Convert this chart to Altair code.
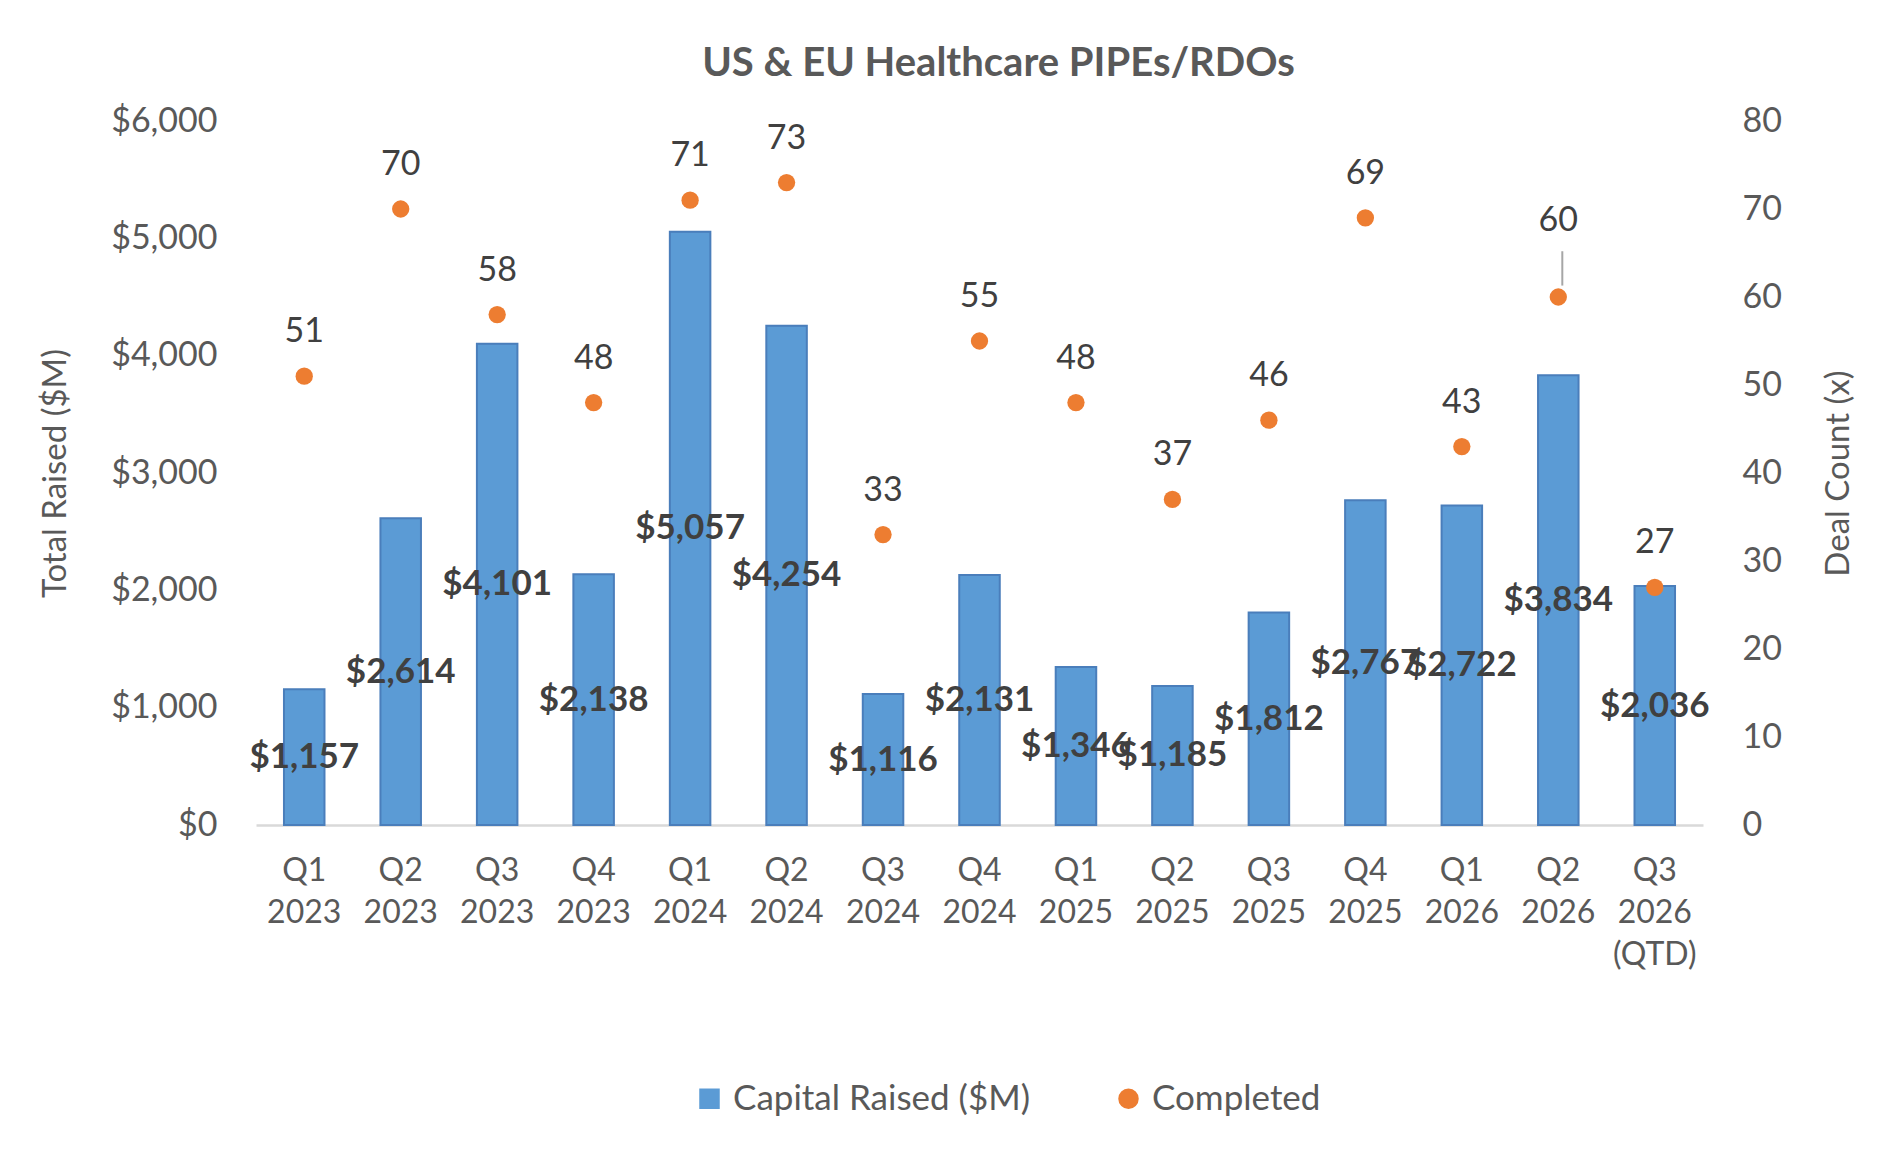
import altair as alt
import pandas as pd

quarters = ["Q1\n2023", "Q2\n2023", "Q3\n2023", "Q4\n2023",
            "Q1\n2024", "Q2\n2024", "Q3\n2024", "Q4\n2024",
            "Q1\n2025", "Q2\n2025", "Q3\n2025", "Q4\n2025",
            "Q1\n2026", "Q2\n2026", "Q3\n2026\n(QTD)"]
capital = [1157, 2614, 4101, 2138, 5057, 4254, 1116, 2131,
           1346, 1185, 1812, 2767, 2722, 3834, 2036]
deals = [51, 70, 58, 48, 71, 73, 33, 55, 48, 37, 46, 69, 43, 60, 27]
series_names = ["Capital Raised ($M)", "Completed"]
leader_quarters = ["Q2\n2026"]

df = pd.DataFrame({"quarter": quarters, "capital": capital, "deals": deals})

FONT = "Lato"
GRAY = "#595959"
DARK = "#404040"
BLUE = "#5B9BD5"
ORANGE = "#ED7D31"

x = alt.X("quarter:N", sort=quarters,
          scale=alt.Scale(paddingInner=0.58, paddingOuter=0.29),
          axis=alt.Axis(title=None, labelAngle=0, ticks=False,
                        labelExpr="split(datum.label, '\\n')",
                        labelLineHeight=42, labelPadding=30,
                        labelFontSize=32, labelColor=GRAY, labelFont=FONT,
                        domainColor="#D9D9D9", domainWidth=2.5))

legend = alt.Legend(title=None, orient="none", direction="horizontal",
                    legendX=436, legendY=960, symbolSize=420,
                    labelFontSize=35, labelFont=FONT, labelColor=GRAY,
                    columnPadding=80, labelOffset=6, labelLimit=0,
                    symbolStrokeWidth=0)
color = alt.Color("series:N",
                  scale=alt.Scale(domain=series_names, range=[BLUE, ORANGE]),
                  legend=legend)
shape = alt.Shape("series:N",
                  scale=alt.Scale(domain=series_names, range=["square", "circle"]),
                  legend=legend)

left_scale = alt.Scale(domain=[0, 6000])
right_scale = alt.Scale(domain=[0, 80])

left_axis = alt.Axis(title="Total Raised ($M)", values=[0, 1000, 2000, 3000, 4000, 5000, 6000],
                     format="$,.0f", grid=False, domain=False, ticks=False,
                     labelPadding=39, labelFontSize=34, labelColor=GRAY, labelFont=FONT,
                     titleFontSize=33, titleColor=GRAY, titleFont=FONT,
                     titleFontWeight="normal", titlePadding=38)
right_axis = alt.Axis(orient="right", title="Deal Count (x)",
                      values=[0, 10, 20, 30, 40, 50, 60, 70, 80],
                      grid=False, domain=False, ticks=False,
                      labelPadding=39, labelFontSize=34, labelColor=GRAY, labelFont=FONT,
                      titleFontSize=33, titleColor=GRAY, titleFont=FONT,
                      titleFontWeight="normal", titlePadding=74, titleAngle=270)

base = alt.Chart(df)

bars = base.transform_calculate(series="'Capital Raised ($M)'").mark_bar(
    stroke="#4A7EBB", strokeWidth=2
).encode(
    x=x,
    y=alt.Y("capital:Q", scale=left_scale, axis=left_axis),
    color=color,
)

bar_labels = base.transform_calculate(half="datum.capital / 2").mark_text(
    font=FONT, fontSize=35, fontWeight="bold", color=DARK, baseline="middle"
).encode(
    x=x,
    y=alt.Y("half:Q", scale=left_scale, axis=left_axis),
    text=alt.Text("capital:Q", format="$,.0f"),
)

left_layer = alt.layer(bars, bar_labels)

points = base.transform_calculate(series="'Completed'").mark_point(
    filled=True, size=300, opacity=1
).encode(
    x=x,
    y=alt.Y("deals:Q", scale=right_scale, axis=right_axis),
    color=color,
    shape=shape,
)

count_labels = base.transform_filter(
    ~alt.FieldOneOfPredicate(field="quarter", oneOf=leader_quarters)
).mark_text(
    font=FONT, fontSize=34, color=DARK, baseline="middle", dy=-44
).encode(
    x=x,
    y=alt.Y("deals:Q", scale=right_scale, axis=right_axis),
    text=alt.Text("deals:Q"),
)

lead_labels = base.transform_filter(
    alt.FieldOneOfPredicate(field="quarter", oneOf=leader_quarters)
).mark_text(
    font=FONT, fontSize=34, color=DARK, baseline="middle", dy=-76
).encode(
    x=x,
    y=alt.Y("deals:Q", scale=right_scale, axis=right_axis),
    text=alt.Text("deals:Q"),
)

lead_line = base.transform_filter(
    alt.FieldOneOfPredicate(field="quarter", oneOf=leader_quarters)
).transform_calculate(
    y1="datum.deals + 1.3", y2="datum.deals + 5.2"
).mark_rule(color="#A6A6A6", strokeWidth=2, xOffset=4).encode(
    x=x,
    y=alt.Y("y1:Q", scale=right_scale, axis=right_axis),
    y2="y2:Q",
)

right_layer = alt.layer(lead_line, points, count_labels, lead_labels)

chart = alt.layer(left_layer, right_layer).resolve_scale(
    y="independent"
).properties(
    width=1447, height=704,
    padding={"left": 31, "top": 36, "right": 10, "bottom": 10},
    title=alt.Title("US & EU Healthcare PIPEs/RDOs", font=FONT, fontSize=40,
                    fontWeight="bold", color=GRAY, anchor="middle", offset=20, dx=19),
).configure(font=FONT).configure_view(stroke="transparent", strokeWidth=0)

chart.save("out.html", embed_options={"renderer": "svg", "actions": False})
